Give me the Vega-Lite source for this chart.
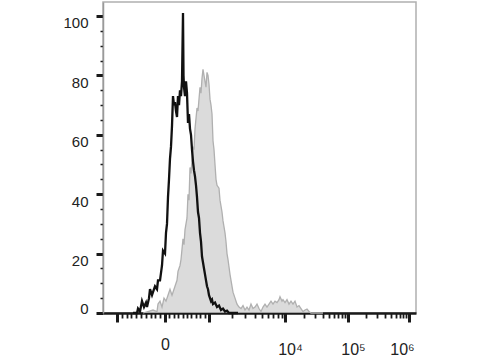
{
  "$schema": "https://vega.github.io/schema/vega-lite/v6.json",
  "width": 313,
  "height": 311,
  "autosize": "none",
  "padding": {"left": 103, "top": 2, "right": 64, "bottom": 47},
  "background": "white",
  "config": {"view": {"stroke": "#b0b0b0", "strokeWidth": 1.5}, "font": "Liberation Sans"},
  "datasets": {
    "gray": [
      {"x": 40, "y": 0}, {"x": 45, "y": 0.5}, {"x": 50, "y": 1}, {"x": 54, "y": 0.5}, {"x": 55, "y": 3}, {"x": 57, "y": 4}, {"x": 59, "y": 2}, {"x": 61, "y": 5}, {"x": 63, "y": 4}, {"x": 65, "y": 6}, {"x": 67, "y": 8}, {"x": 69, "y": 6}, {"x": 70, "y": 7}, {"x": 72, "y": 9}, {"x": 74, "y": 11}, {"x": 75, "y": 14}, {"x": 77, "y": 16}, {"x": 78, "y": 18}, {"x": 80, "y": 25}, {"x": 81, "y": 23}, {"x": 82, "y": 28}, {"x": 84, "y": 32}, {"x": 85, "y": 40}, {"x": 86, "y": 38}, {"x": 87, "y": 49}, {"x": 88, "y": 47}, {"x": 90, "y": 56}, {"x": 91, "y": 55}, {"x": 92, "y": 62}, {"x": 94, "y": 69}, {"x": 95, "y": 68}, {"x": 97, "y": 76}, {"x": 98, "y": 74}, {"x": 99, "y": 79}, {"x": 100, "y": 82}, {"x": 101, "y": 80}, {"x": 102, "y": 78}, {"x": 103, "y": 76}, {"x": 104, "y": 81}, {"x": 105, "y": 80}, {"x": 106, "y": 77}, {"x": 107, "y": 72}, {"x": 108, "y": 70}, {"x": 109, "y": 67}, {"x": 110, "y": 58}, {"x": 111, "y": 55}, {"x": 112, "y": 50}, {"x": 113, "y": 45}, {"x": 114, "y": 43}, {"x": 116, "y": 42}, {"x": 117, "y": 38}, {"x": 119, "y": 34}, {"x": 120, "y": 31}, {"x": 122, "y": 27}, {"x": 123, "y": 24}, {"x": 124, "y": 20}, {"x": 125, "y": 18}, {"x": 127, "y": 13}, {"x": 128, "y": 11}, {"x": 130, "y": 7}, {"x": 132, "y": 5}, {"x": 134, "y": 3}, {"x": 136, "y": 2}, {"x": 138, "y": 1.5}, {"x": 140, "y": 2.5}, {"x": 142, "y": 1}, {"x": 144, "y": 2}, {"x": 146, "y": 1}, {"x": 148, "y": 3}, {"x": 150, "y": 1.5}, {"x": 152, "y": 2}, {"x": 154, "y": 3}, {"x": 156, "y": 1.5}, {"x": 158, "y": 0.5}, {"x": 160, "y": 2}, {"x": 162, "y": 3}, {"x": 164, "y": 2}, {"x": 166, "y": 3}, {"x": 168, "y": 4}, {"x": 170, "y": 3}, {"x": 172, "y": 4}, {"x": 174, "y": 3.5}, {"x": 176, "y": 4.5}, {"x": 177, "y": 5.5}, {"x": 179, "y": 4}, {"x": 180, "y": 4.5}, {"x": 182, "y": 3.5}, {"x": 184, "y": 4.5}, {"x": 186, "y": 3}, {"x": 188, "y": 4}, {"x": 190, "y": 3}, {"x": 192, "y": 4}, {"x": 194, "y": 2}, {"x": 196, "y": 2.5}, {"x": 198, "y": 1.5}, {"x": 200, "y": 0.5}, {"x": 202, "y": 1}, {"x": 204, "y": 1.3}, {"x": 206, "y": 0.5}, {"x": 208, "y": 0}, {"x": 220, "y": 0}
    ],
    "black": [
      {"x": 30, "y": 0}, {"x": 34, "y": 0}, {"x": 35, "y": 1.5}, {"x": 37, "y": 0.5}, {"x": 39, "y": 4}, {"x": 41, "y": 2}, {"x": 43, "y": 3.5}, {"x": 44, "y": 2}, {"x": 46, "y": 5}, {"x": 47, "y": 8}, {"x": 49, "y": 6}, {"x": 50, "y": 7}, {"x": 52, "y": 9}, {"x": 54, "y": 8}, {"x": 55, "y": 11}, {"x": 57, "y": 11}, {"x": 59, "y": 16}, {"x": 60, "y": 21}, {"x": 62, "y": 20}, {"x": 63, "y": 27}, {"x": 64, "y": 30}, {"x": 65, "y": 39}, {"x": 66, "y": 45}, {"x": 67, "y": 52}, {"x": 68, "y": 56}, {"x": 69, "y": 63}, {"x": 70, "y": 73}, {"x": 71, "y": 70}, {"x": 72, "y": 71}, {"x": 73, "y": 68}, {"x": 74, "y": 66}, {"x": 75, "y": 73}, {"x": 76, "y": 70}, {"x": 77, "y": 75}, {"x": 78, "y": 73}, {"x": 79, "y": 78}, {"x": 80, "y": 101}, {"x": 80.5, "y": 80}, {"x": 81, "y": 76}, {"x": 82, "y": 73}, {"x": 83, "y": 78}, {"x": 84, "y": 74}, {"x": 85, "y": 64}, {"x": 86, "y": 67}, {"x": 87, "y": 62}, {"x": 88, "y": 60}, {"x": 89, "y": 55}, {"x": 90, "y": 51}, {"x": 91, "y": 48}, {"x": 92, "y": 46}, {"x": 93, "y": 43}, {"x": 94, "y": 39}, {"x": 95, "y": 34}, {"x": 96, "y": 32}, {"x": 97, "y": 27}, {"x": 98, "y": 24}, {"x": 99, "y": 19}, {"x": 100, "y": 17}, {"x": 101, "y": 15}, {"x": 102, "y": 13}, {"x": 103, "y": 11}, {"x": 104, "y": 9}, {"x": 105, "y": 8}, {"x": 106, "y": 6}, {"x": 107, "y": 5}, {"x": 108, "y": 4}, {"x": 109, "y": 4.5}, {"x": 110, "y": 3}, {"x": 112, "y": 3.5}, {"x": 114, "y": 2}, {"x": 116, "y": 2.5}, {"x": 118, "y": 1}, {"x": 120, "y": 1.5}, {"x": 122, "y": 0.5}, {"x": 124, "y": 0.8}, {"x": 126, "y": 0}, {"x": 135, "y": 0}
    ]
  },
  "encoding": {
    "x": {
      "field": "x", "type": "quantitative",
      "scale": {"domain": [0, 313], "nice": false, "zero": false},
      "axis": {
        "title": null, "grid": false,
        "values": [14, 18.8, 23.6, 28.4, 33.2, 38, 42.8, 47.6, 52.4, 57.2, 62, 66.4, 70.8, 75.2, 79.6, 84, 88.4, 92.8, 97.2, 101.6, 106, 128.9, 142.3, 151.8, 159.1, 165.1, 170.2, 174.6, 178.5, 182, 201, 212.1, 219.9, 226, 231, 235.2, 238.9, 242.1, 245, 263.4, 274.1, 281.7, 287.6, 292.5, 296.5, 300.1, 303.2, 306],
        "labelExpr": "datum.value == 62 ? '0' : datum.value == 182 ? '10⁴' : datum.value == 245 ? '10⁵' : datum.value == 306 ? '10⁶' : ''",
        "domainColor": "#1a1a1a", "domainWidth": 2.5,
        "tickColor": "#1a1a1a",
        "tickSize": {"condition": {"test": "indexof([14,62,106,182,245,306], datum.value) >= 0", "value": 9}, "value": 5},
        "tickWidth": {"condition": {"test": "indexof([14,62,106,182,245,306], datum.value) >= 0", "value": 3}, "value": 1.8},
        "labelFontSize": 16, "labelColor": "#222", "labelFont": "Liberation Sans",
        "labelOverlap": false, "labelFlush": false, "labelBound": false,
        "labelBaseline": "top",
        "labelPadding": {"condition": {"test": "datum.value == 62", "value": 14}, "value": 19},
        "labelOffset": {"condition": [{"test": "datum.value == 306", "value": -7}, {"test": "datum.value == 62", "value": 0}], "value": 5}
      }
    },
    "y": {
      "field": "y", "type": "quantitative",
      "scale": {"domain": [0, 104.7], "nice": false},
      "axis": {
        "title": null, "grid": false,
        "values": [0, 5, 10, 15, 20, 25, 30, 35, 40, 45, 50, 55, 60, 65, 70, 75, 80, 85, 90, 95, 100],
        "labelExpr": "datum.value % 20 == 0 ? datum.label : ''",
        "domainColor": "#9a9a9a", "domainWidth": 1.5,
        "tickColor": "#1a1a1a",
        "tickSize": {"condition": {"test": "datum.value % 20 == 0", "value": 7}, "value": 3},
        "tickWidth": {"condition": {"test": "datum.value % 20 == 0", "value": 3}, "value": 1.5},
        "labelFontSize": 15, "labelColor": "#222", "labelFont": "Liberation Sans",
        "labelPadding": 8,
        "labelOverlap": false, "labelFlush": false,
        "labelBaseline": {"condition": {"test": "datum.value == 0", "value": "alphabetic"}, "value": "top"}
      }
    }
  },
  "layer": [
    {
      "data": {"name": "gray"},
      "mark": {"type": "area", "color": "#cccccc", "line": {"color": "#b0b0b0", "strokeWidth": 1.3}}
    },
    {
      "data": {"name": "black"},
      "mark": {"type": "line", "color": "#111111", "strokeWidth": 2.3}
    }
  ]
}
